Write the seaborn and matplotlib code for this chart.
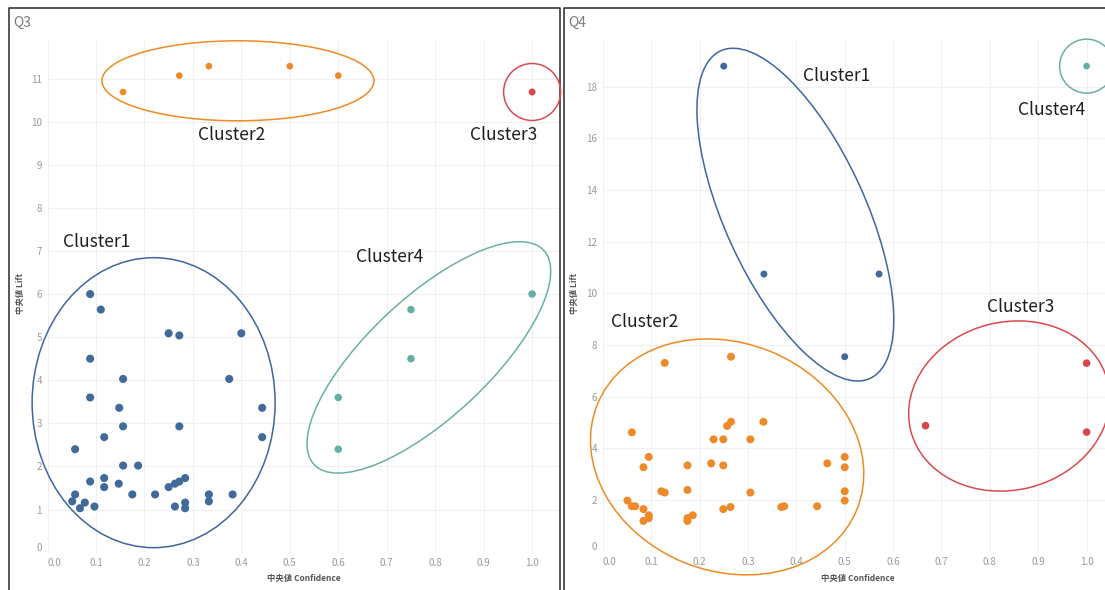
import numpy as np
import pandas as pd
import matplotlib
matplotlib.use("Agg")
import matplotlib.pyplot as plt
import seaborn as sns
from matplotlib.patches import Ellipse
from matplotlib.lines import Line2D
from matplotlib.transforms import ScaledTranslation

# ---------------- data ----------------
clusters = ["Cluster1", "Cluster2", "Cluster3", "Cluster4"]

# Q3
q3_c1_conf = [0.088, 0.110, 0.250, 0.272, 0.400, 0.088, 0.156, 0.375, 0.088, 0.148,
              0.443, 0.156, 0.272, 0.117, 0.443, 0.057, 0.156, 0.187, 0.088, 0.117,
              0.117, 0.147, 0.057, 0.051, 0.077, 0.067, 0.097, 0.175, 0.222, 0.250,
              0.263, 0.272, 0.284, 0.263, 0.284, 0.284, 0.333, 0.333, 0.382]
q3_c1_lift = [6.00, 5.64, 5.09, 5.04, 5.09, 4.50, 4.03, 4.03, 3.60, 3.36,
              3.36, 2.93, 2.93, 2.68, 2.68, 2.40, 2.02, 2.02, 1.65, 1.73,
              1.52, 1.60, 1.35, 1.19, 1.16, 1.03, 1.07, 1.35, 1.35, 1.52,
              1.60, 1.65, 1.73, 1.07, 1.16, 1.03, 1.35, 1.19, 1.35]
q3_c2_conf = [0.156, 0.272, 0.333, 0.500, 0.600]
q3_c2_lift = [10.69, 11.07, 11.29, 11.29, 11.07]
q3_c3_conf = [1.0]
q3_c3_lift = [10.69]
q3_c4_conf = [1.0, 0.75, 0.75, 0.60, 0.60]
q3_c4_lift = [6.00, 5.64, 4.50, 3.60, 2.40]

# Q4
q4_c1_conf = [0.250, 0.333, 0.571, 0.500]
q4_c1_lift = [18.80, 10.75, 10.75, 7.55]
q4_c2_conf = [0.128, 0.265, 0.060, 0.257, 0.265, 0.332, 0.229, 0.249, 0.305, 0.095,
              0.084, 0.175, 0.224, 0.249, 0.464, 0.500, 0.500, 0.121, 0.128, 0.175,
              0.305, 0.500, 0.500, 0.051, 0.060, 0.067, 0.084, 0.095, 0.095, 0.084,
              0.175, 0.175, 0.186, 0.249, 0.264, 0.369, 0.375, 0.443]
q4_c2_lift = [7.31, 7.55, 4.62, 4.87, 5.03, 5.03, 4.35, 4.35, 4.35, 3.67,
              3.27, 3.34, 3.42, 3.34, 3.42, 3.67, 3.27, 2.34, 2.29, 2.39,
              2.29, 2.34, 1.98, 1.98, 1.76, 1.76, 1.65, 1.41, 1.30, 1.19,
              1.30, 1.19, 1.41, 1.65, 1.73, 1.73, 1.76, 1.76]
q4_c3_conf = [1.0, 0.667, 1.0]
q4_c3_lift = [7.30, 4.88, 4.63]
q4_c4_conf = [1.0]
q4_c4_lift = [18.80]

x_ticks = [round(v, 1) for v in np.arange(0, 1.01, 0.1)]
q3_y_ticks = list(range(0, 12))
q4_y_ticks = list(range(0, 20, 2))


def frame(groups):
    parts = []
    for name, (c, l) in zip(clusters, groups):
        parts.append(pd.DataFrame({"conf": c, "lift": l, "cluster": name}))
    return pd.concat(parts, ignore_index=True)


df_q3 = frame([(q3_c1_conf, q3_c1_lift), (q3_c2_conf, q3_c2_lift),
               (q3_c3_conf, q3_c3_lift), (q3_c4_conf, q3_c4_lift)])
df_q4 = frame([(q4_c1_conf, q4_c1_lift), (q4_c2_conf, q4_c2_lift),
               (q4_c3_conf, q4_c3_lift), (q4_c4_conf, q4_c4_lift)])

# ---------------- style ----------------
sns.set_theme(style="white")
plt.rcParams["font.family"] = ["Noto Sans CJK JP", "DejaVu Sans"]

pt_colors = {"Cluster1": "#41699A", "Cluster2": "#EE8A2A",
             "Cluster3": "#D9474E", "Cluster4": "#66ADA6"}
q3_sizes = {"Cluster1": 34, "Cluster2": 23, "Cluster3": 25, "Cluster4": 29}
q4_sizes = {"Cluster1": 25, "Cluster2": 33, "Cluster3": 30, "Cluster4": 23}
ring_colors = {"Cluster1": "#3E66A0", "Cluster2": "#F08A24",
               "Cluster3": "#DA4A4E", "Cluster4": "#6AB0A8"}

W, H = 1105, 590
fig = plt.figure(figsize=(W / 100, H / 100), dpi=100)


def px_axes(l, t, r, b):
    return fig.add_axes([l / W, 1 - b / H, (r - l) / W, (b - t) / H])


ax3 = px_axes(47.5, 39, 560, 552.6)
ax4 = px_axes(602.8, 39, 1105, 551.7)

for ax, df, sz in [(ax3, df_q3, q3_sizes), (ax4, df_q4, q4_sizes)]:
    sns.scatterplot(data=df, x="conf", y="lift", hue="cluster", size="cluster",
                    sizes=sz, palette=pt_colors, linewidth=0, alpha=1, legend=False,
                    ax=ax, zorder=3)

ax3.set_xlim(0, 1.0576)
ax3.set_ylim(0, 11.92)
ax4.set_xlim(0, 1.038)
ax4.set_ylim(0, 19.85)

for ax, yt in [(ax3, q3_y_ticks), (ax4, q4_y_ticks)]:
    ax.set_xticks(x_ticks)
    ax.set_xticklabels([f"{v:.1f}" for v in x_ticks])
    ax.set_yticks(yt)
    ax.set_yticklabels([str(v) for v in yt])
    ax.grid(True, color="#f0f0f0", lw=0.8, zorder=0)
    ax.set_axisbelow(True)
    for s in ax.spines.values():
        s.set_visible(False)
    ax.tick_params(axis="both", length=0, labelsize=7, labelcolor="#9a9a9a", pad=4)
    ax.xaxis.get_majorticklabels()[0].set_ha("left")
    ax.yaxis.get_majorticklabels()[0].set_va("bottom")
    ax.set_xlabel("")
    ax.set_ylabel("")
    ax.patch.set_alpha(0)

# ---------------- rings around clusters (annotations) ----------------
def ring(ax, center, w_px, h_px, angle, color):
    tr = fig.dpi_scale_trans + ScaledTranslation(center[0], center[1], ax.transData)
    e = Ellipse((0, 0), w_px / 100, h_px / 100, angle=angle, transform=tr,
                fill=False, edgecolor=color, lw=1.1, clip_on=False, zorder=4)
    fig.add_artist(e)


ring(ax3, (0.393, 10.95), 272, 80, 0, ring_colors["Cluster2"])
ring(ax3, (1.0, 10.69), 57, 57, 0, ring_colors["Cluster3"])
ring(ax3, (0.219, 3.48), 243, 290, 0, ring_colors["Cluster1"])
ring(ax3, (0.787, 4.53), 314, 120, 43, ring_colors["Cluster4"])

ring(ax4, (0.398, 13.05), 360, 141, -65.5, ring_colors["Cluster1"])
ring(ax4, (1.0, 18.80), 54, 54, 0, ring_colors["Cluster4"])
ring(ax4, (0.257, 3.67), 280, 228, -22, ring_colors["Cluster2"])
ring(ax4, (0.840, 5.64), 203, 168, 14, ring_colors["Cluster3"])

lab_kw = dict(fontsize=12.5, color="#1e1e1e", ha="center", va="center", clip_on=False, zorder=5)
ax3.text(0.379, 9.69, "Cluster2", **lab_kw)
ax3.text(0.941, 9.69, "Cluster3", **lab_kw)
ax3.text(0.102, 7.21, "Cluster1", **lab_kw)
ax3.text(0.705, 6.87, "Cluster4", **lab_kw)
ax4.text(0.484, 18.42, "Cluster1", **lab_kw)
ax4.text(0.928, 17.10, "Cluster4", **lab_kw)
ax4.text(0.086, 8.88, "Cluster2", **lab_kw)
ax4.text(0.863, 9.46, "Cluster3", **lab_kw)

# ---------------- titles & axis labels ----------------
def ftext(x, y, s, **kw):
    fig.text(x / W, 1 - y / H, s, **kw)


ftext(13, 23, "Q3", fontsize=10, color="#7a7a7a", ha="left", va="center")
ftext(568, 23, "Q4", fontsize=10, color="#7a7a7a", ha="left", va="center")
axlab = dict(fontsize=6, color="#555555", fontweight="bold", ha="center", va="center")
ftext(303.7, 579, "中央値 Confidence", **axlab)
ftext(858, 579, "中央値 Confidence", **axlab)
ftext(20, 294, "中央値 Lift", rotation=90, **axlab)
ftext(575, 294, "中央値 Lift", rotation=90, **axlab)

# ---------------- panel frames ----------------
def fline(xs, ys, **kw):
    fig.add_artist(Line2D([x / W for x in xs], [1 - y / H for y in ys],
                          transform=fig.transFigure, **kw))


fr = dict(color="#3a3a3a", lw=1.2)
fline([9, 9, 560, 560], [600, 8, 8, 600], **fr)
fline([564, 564, 1110], [600, 8, 8], **fr)

fig.savefig("out.png", dpi=100)
